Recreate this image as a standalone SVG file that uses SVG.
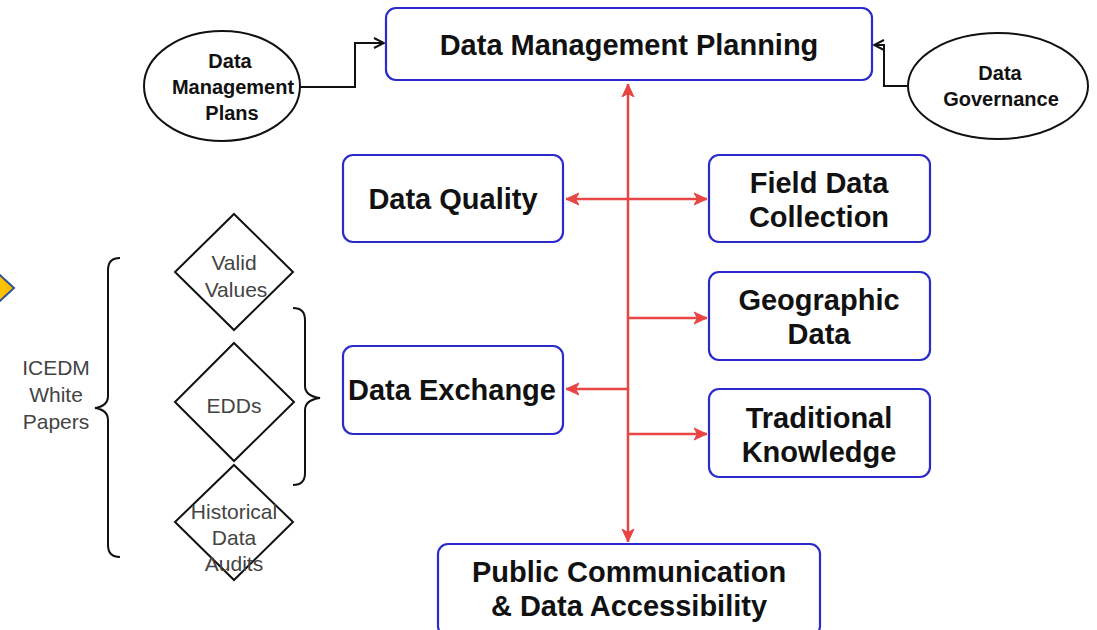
<svg xmlns="http://www.w3.org/2000/svg" width="1097" height="630" viewBox="0 0 1097 630">
<defs>
<style>
.box{fill:#fff;stroke:#2b2bcc;stroke-width:2.2}
.ell{fill:#fff;stroke:#111;stroke-width:2}
.dia{fill:#fff;stroke:#111;stroke-width:2}
.bt{font-family:"Liberation Sans",Arial,sans-serif;font-weight:bold;font-size:29px;fill:#111;text-anchor:middle}
.et{font-family:"Liberation Sans",Arial,sans-serif;font-weight:bold;font-size:20px;fill:#111;text-anchor:middle}
.dt{font-family:"Liberation Sans",Arial,sans-serif;font-size:21px;fill:#444;text-anchor:middle}
.red{fill:none;stroke:#e84545;stroke-width:2.5}
.blk{fill:none;stroke:#111;stroke-width:2}
</style>
<marker id="ra" viewBox="0 0 14 14" refX="13" refY="7" markerWidth="14" markerHeight="14" markerUnits="userSpaceOnUse" orient="auto-start-reverse">
<path d="M0,1 L13,7 L0,13 L3.5,7 Z" fill="#e84545" stroke="#e84545" stroke-width="1"/>
</marker>
<marker id="ba" viewBox="0 0 12 12" refX="11" refY="6" markerWidth="12" markerHeight="12" markerUnits="userSpaceOnUse" orient="auto">
<path d="M1,1 L11,6 L1,11" fill="none" stroke="#111" stroke-width="2"/>
</marker>
</defs>
<rect width="1097" height="630" fill="#fff"/>
<path d="M-12,264 L14,288 L-12,312 Z" fill="#ffc000" stroke="#2f5597" stroke-width="2"/>
<g id="connectors">
<path class="red" d="M628,84 L628,542" marker-start="url(#ra)" marker-end="url(#ra)"/>
<path class="red" d="M566,199 L707,199" marker-start="url(#ra)" marker-end="url(#ra)"/>
<path class="red" d="M628,318 L707,318" marker-end="url(#ra)"/>
<path class="red" d="M628,389 L566,389" marker-end="url(#ra)"/>
<path class="red" d="M628,434 L707,434" marker-end="url(#ra)"/>
<path class="blk" d="M300,87 L355,87 L355,43 L384,43" marker-end="url(#ba)"/>
<path class="blk" d="M907,86 L884,86 L884,45 L874,45" marker-end="url(#ba)"/>
<path class="blk" d="M120,258 Q108,258 108,270 L108,396 Q108,406 95,408 Q108,410 108,420 L108,545 Q108,557 120,557"/>
<path class="blk" d="M293,308 Q305,308 305,320 L305,386 Q305,396 320,398 Q305,400 305,410 L305,473 Q305,485 293,485"/>
</g>
<g id="n-dmp">
<rect class="box" x="386" y="8" width="486" height="72" rx="10"/>
<text class="bt" x="629" y="55">Data Management Planning</text>
</g>
<g id="n-plans">
<ellipse class="ell" cx="222" cy="86" rx="78" ry="55"/>
<text class="et" x="230" y="68">Data</text>
<text class="et" x="233" y="94">Management</text>
<text class="et" x="232" y="120">Plans</text>
</g>
<g id="n-gov">
<ellipse class="ell" cx="998" cy="86" rx="90" ry="53"/>
<text class="et" x="1000" y="80">Data</text>
<text class="et" x="1001" y="106">Governance</text>
</g>
<g id="n-quality">
<rect class="box" x="343" y="155" width="220" height="87" rx="10"/>
<text class="bt" x="453" y="209">Data Quality</text>
</g>
<g id="n-field">
<rect class="box" x="709" y="155" width="221" height="87" rx="10"/>
<text class="bt" x="819" y="193">Field Data</text>
<text class="bt" x="819" y="227">Collection</text>
</g>
<g id="n-geo">
<rect class="box" x="709" y="272" width="221" height="88" rx="10"/>
<text class="bt" x="819" y="310">Geographic</text>
<text class="bt" x="819" y="344">Data</text>
</g>
<g id="n-exchange">
<rect class="box" x="343" y="346" width="220" height="88" rx="10"/>
<text class="bt" x="452" y="400">Data Exchange</text>
</g>
<g id="n-trad">
<rect class="box" x="709" y="389" width="221" height="88" rx="10"/>
<text class="bt" x="819" y="428">Traditional</text>
<text class="bt" x="819" y="462">Knowledge</text>
</g>
<g id="n-public">
<rect class="box" x="438" y="544" width="382" height="92" rx="10"/>
<text class="bt" x="629" y="582">Public Communication</text>
<text class="bt" x="629" y="616">&amp; Data Accessibility</text>
</g>
<g id="n-valid">
<path class="dia" d="M234,214 L293,272 L234,330 L175,272 Z"/>
<text class="dt" x="234" y="270">Valid</text>
<text class="dt" x="236" y="297">Values</text>
</g>
<g id="n-edds">
<path class="dia" d="M234,343 L294,402 L234,461 L175,402 Z"/>
<text class="dt" x="234" y="413">EDDs</text>
</g>
<g id="n-hist">
<path class="dia" d="M234,465 L293,522 L234,580 L175,522 Z"/>
<text class="dt" x="234" y="519">Historical</text>
<text class="dt" x="234" y="545">Data</text>
<text class="dt" x="234" y="571">Audits</text>
</g>
<g id="n-icedm">
<text class="dt" x="56" y="375">ICEDM</text>
<text class="dt" x="56" y="402">White</text>
<text class="dt" x="56" y="429">Papers</text>
</g>
</svg>
